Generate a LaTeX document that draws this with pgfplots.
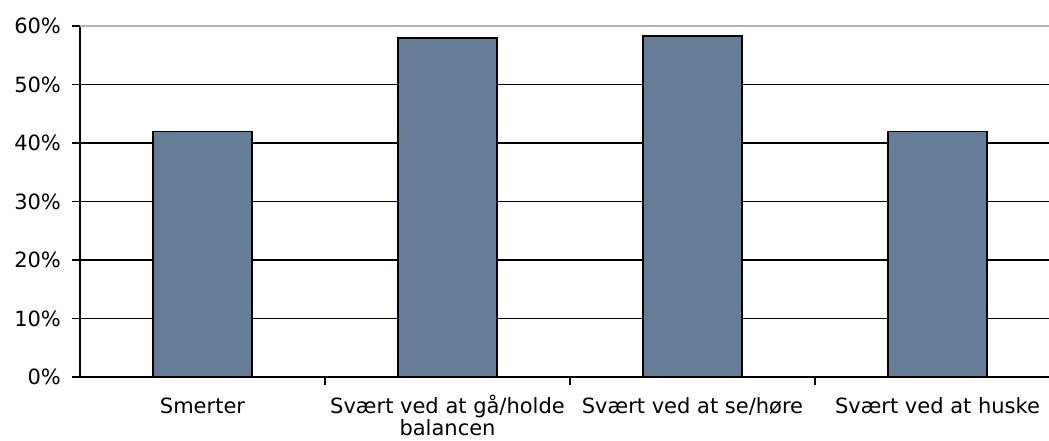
\documentclass[border=0pt]{standalone}
\usepackage{pgfplots}
\pgfplotsset{compat=1.18}
\usepackage{fontspec}
\setmainfont{DejaVu Sans}
\definecolor{barcol}{RGB}{101,125,151}
\newcommand{\ph}{\vphantom{Å}}
\begin{document}
\begin{tikzpicture}
\begin{axis}[name=ax, scale only axis, width=484.5pt, height=175.5pt,
  xmin=-0.5, xmax=3.455, ymin=0, ymax=60,
  /pgf/number format/assume math mode=true,
  axis x line=bottom, axis y line=left,
  axis line style={-, line width=0.6pt, black},
  ytick={0,10,20,30,40,50}, extra y ticks={60},
  extra y tick style={grid style={gray!60, line width=0.6pt}},
  yticklabel={\pgfmathprintnumber{\tick}\%},
  ymajorgrids, grid style={black, line width=0.6pt},
  tick align=outside, major tick length=4pt,
  tick style={black, line width=0.6pt},
  xtick={0.5,1.5,2.5}, xticklabels={},
  extra x ticks={0,1,2,3},
  extra x tick labels={\ph Smerter,{\ph Svært ved at gå/holde\\balancen},{\ph Svært ved at se/høre},{\ph Svært ved at huske}},
  extra x tick style={tick style={draw=none}, xmajorgrids=false},
  xticklabel style={align=center, font=\fontsize{10.5}{11}\selectfont, yshift=-1pt},
  yticklabel style={font=\fontsize{10.5}{11}\selectfont, xshift=-2pt},
  clip=false]
\addplot[ybar, bar width=49.5pt, fill=barcol, draw=black, line width=0.8pt] coordinates {(0,42) (1,58) (2,58.3) (3,42)};
\end{axis}
\pgfresetboundingbox
\useasboundingbox ([xshift=-40pt,yshift=-31.5pt]ax.south west) rectangle ([yshift=13pt]ax.north east);
\end{tikzpicture}
\end{document}
